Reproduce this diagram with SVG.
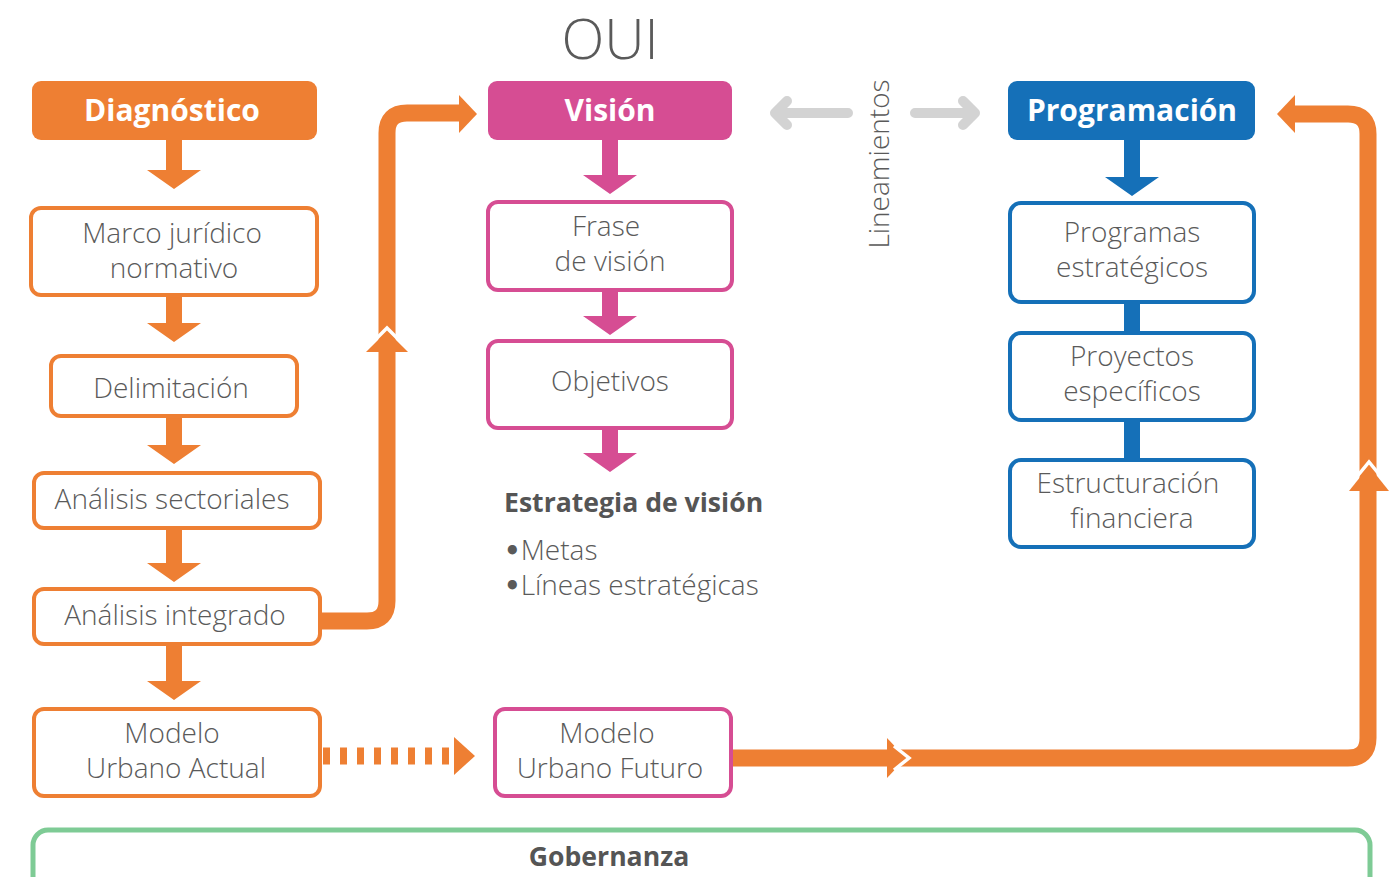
<svg xmlns="http://www.w3.org/2000/svg" width="1395" height="877" viewBox="0 0 1395 877">
<defs>
<style>
.t{font-family:"Open Sans","Noto Sans","Liberation Sans",sans-serif;font-weight:300;font-size:28px;fill:#5a5a5a;text-anchor:middle}
.h{font-family:"Open Sans","Noto Sans","Liberation Sans",sans-serif;font-weight:700;font-size:30px;fill:#fff;text-anchor:middle}
.b{font-family:"Open Sans","Noto Sans","Liberation Sans",sans-serif;font-weight:700;font-size:26.6px;fill:#555}
.bu{font-family:"DejaVu Sans",sans-serif;font-weight:700;font-size:26px}
.o{fill:#fff;stroke:#EE7F33;stroke-width:4}
.m{fill:#fff;stroke:#D64D93;stroke-width:4}
.bl{fill:#fff;stroke:#1570B8;stroke-width:4}
.of{fill:#EE7F33}
.mf{fill:#D64D93}
.bf{fill:#1570B8}
.line{fill:none;stroke:#EE7F33;stroke-width:17;stroke-linejoin:round}
.gap{fill:none;stroke:#fff;stroke-width:3.5;stroke-linejoin:miter}
.gray{fill:none;stroke:#D3D3D3;stroke-width:10;stroke-linecap:round;stroke-linejoin:round}
</style>
</defs>
<rect width="1395" height="877" fill="#fff"/>
<text x="610" y="59" class="t" style="font-size:56px">OUI</text>

<g id="connectors">
  <!-- left column arrows -->
  <path class="of" d="M166,140 h16 v30 h19 l-27,19 l-27,-19 h19 z"/>
  <path class="of" d="M166,295 h16 v28 h19 l-27,19 l-27,-19 h19 z"/>
  <path class="of" d="M166,416 h16 v29 h19 l-27,19 l-27,-19 h19 z"/>
  <path class="of" d="M166,528 h16 v35 h19 l-27,19 l-27,-19 h19 z"/>
  <path class="of" d="M166,644 h16 v37 h19 l-27,19 l-27,-19 h19 z"/>
  <!-- middle column arrows -->
  <path class="mf" d="M602,140 h16 v35 h19 l-27,19 l-27,-19 h19 z"/>
  <path class="mf" d="M602,290 h16 v26 h19 l-27,19 l-27,-19 h19 z"/>
  <path class="mf" d="M602,428 h16 v25 h19 l-27,19 l-27,-19 h19 z"/>
  <!-- right column -->
  <path class="bf" d="M1124,140 h16 v37 h19 l-27,19 l-27,-19 h19 z"/>
  <rect class="bf" x="1124" y="302" width="16" height="31"/>
  <rect class="bf" x="1124" y="420" width="16" height="40"/>
  <!-- Análisis integrado to Visión -->
  <path class="line" d="M320,621 H367 Q387,621 387,601 V133 Q387,113 407,113 H462"/>
  <path class="of" d="M459,95 L477,114 L459,133 Z"/>
  <path class="of" d="M366,352 L387,331 L408,352 Z"/>
  <path class="gap" d="M370,345 L387,328 L404,345"/>
  <!-- dashed Modelo actual to futuro -->
  <path fill="none" stroke="#EE7F33" stroke-width="17" stroke-dasharray="7 10" d="M323,756 H454"/>
  <path class="of" d="M454,737 L475,756 L454,775 Z"/>
  <!-- Modelo futuro to Programación -->
  <path class="line" d="M731,758 H1348 Q1368,758 1368,738 V134 Q1368,114 1348,114 H1292"/>
  <path class="of" d="M1295,95 L1277,114 L1295,133 Z"/>
  <path class="of" d="M887,738 L906,758 L887,778 Z"/>
  <path class="gap" d="M894,746 L909,758 L894,770"/>
  <path class="of" d="M1349,491 L1369,466 L1389,491 Z"/>
  <path class="gap" d="M1355,479 L1369,462 L1383,479"/>
  <!-- Lineamientos arrows -->
  <path class="gray" d="M848,113 H775 M787,101 L775,113 L787,125"/>
  <path class="gray" d="M915,113 H975 M963,101 L975,113 L963,125"/>
</g>

<g id="diagnostico">
  <rect class="of" x="32" y="81" width="285" height="59" rx="9"/>
  <text x="172" y="121" class="h">Diagnóstico</text>
</g>
<g id="vision">
  <rect class="mf" x="488" y="81" width="244" height="59" rx="9"/>
  <text x="610" y="121" class="h">Visión</text>
</g>
<g id="programacion">
  <rect class="bf" x="1008" y="81" width="247" height="59" rx="9"/>
  <text x="1132" y="121" class="h">Programación</text>
</g>

<g id="marco">
  <rect class="o" x="31" y="208" width="286" height="87" rx="10"/>
  <text x="172" y="243" class="t">Marco jurídico</text>
  <text x="174" y="278" class="t">normativo</text>
</g>
<g id="delimitacion">
  <rect class="o" x="51" y="356" width="246" height="60" rx="10"/>
  <text x="171" y="398" class="t">Delimitación</text>
</g>
<g id="sectoriales">
  <rect class="o" x="34" y="473" width="286" height="55" rx="10"/>
  <text x="172" y="509" class="t">Análisis sectoriales</text>
</g>
<g id="integrado">
  <rect class="o" x="34" y="589" width="286" height="55" rx="10"/>
  <text x="175" y="625" class="t">Análisis integrado</text>
</g>
<g id="actual">
  <rect class="o" x="34" y="709" width="286" height="87" rx="10"/>
  <text x="172" y="743" class="t">Modelo</text>
  <text x="176" y="778" class="t">Urbano Actual</text>
</g>

<g id="frase">
  <rect class="m" x="488" y="202" width="244" height="88" rx="10"/>
  <text x="606" y="236" class="t">Frase</text>
  <text x="610" y="271" class="t">de visión</text>
</g>
<g id="objetivos">
  <rect class="m" x="488" y="341" width="244" height="87" rx="10"/>
  <text x="610" y="391" class="t">Objetivos</text>
</g>
<g id="estrategia">
  <text x="504" y="512" class="b">Estrategia de visión</text>
  <text x="504" y="560" class="t" style="text-anchor:start"><tspan class="bu">•</tspan>Metas</text>
  <text x="504" y="595" class="t" style="text-anchor:start"><tspan class="bu">•</tspan>Líneas estratégicas</text>
</g>
<g id="futuro">
  <rect class="m" x="495" y="709" width="236" height="87" rx="10"/>
  <text x="607" y="743" class="t">Modelo</text>
  <text x="610" y="778" class="t">Urbano Futuro</text>
</g>

<g id="lineamientos">
  <text x="0" y="0" class="t" transform="translate(889,164) rotate(-90)">Lineamientos</text>
</g>

<g id="programas">
  <rect class="bl" x="1010" y="203" width="244" height="99" rx="11"/>
  <text x="1132" y="242" class="t">Programas</text>
  <text x="1132" y="277" class="t">estratégicos</text>
</g>
<g id="proyectos">
  <rect class="bl" x="1010" y="333" width="244" height="87" rx="11"/>
  <text x="1132" y="366" class="t">Proyectos</text>
  <text x="1132" y="401" class="t">específicos</text>
</g>
<g id="financiera">
  <rect class="bl" x="1010" y="460" width="244" height="87" rx="11"/>
  <text x="1128" y="493" class="t">Estructuración</text>
  <text x="1132" y="528" class="t">financiera</text>
</g>

<g id="gobernanza">
  <rect x="33" y="830" width="1337" height="80" rx="15" fill="none" stroke="#7ECB95" stroke-width="5"/>
  <text x="609" y="866" class="b" style="text-anchor:middle">Gobernanza</text>
</g>
</svg>
